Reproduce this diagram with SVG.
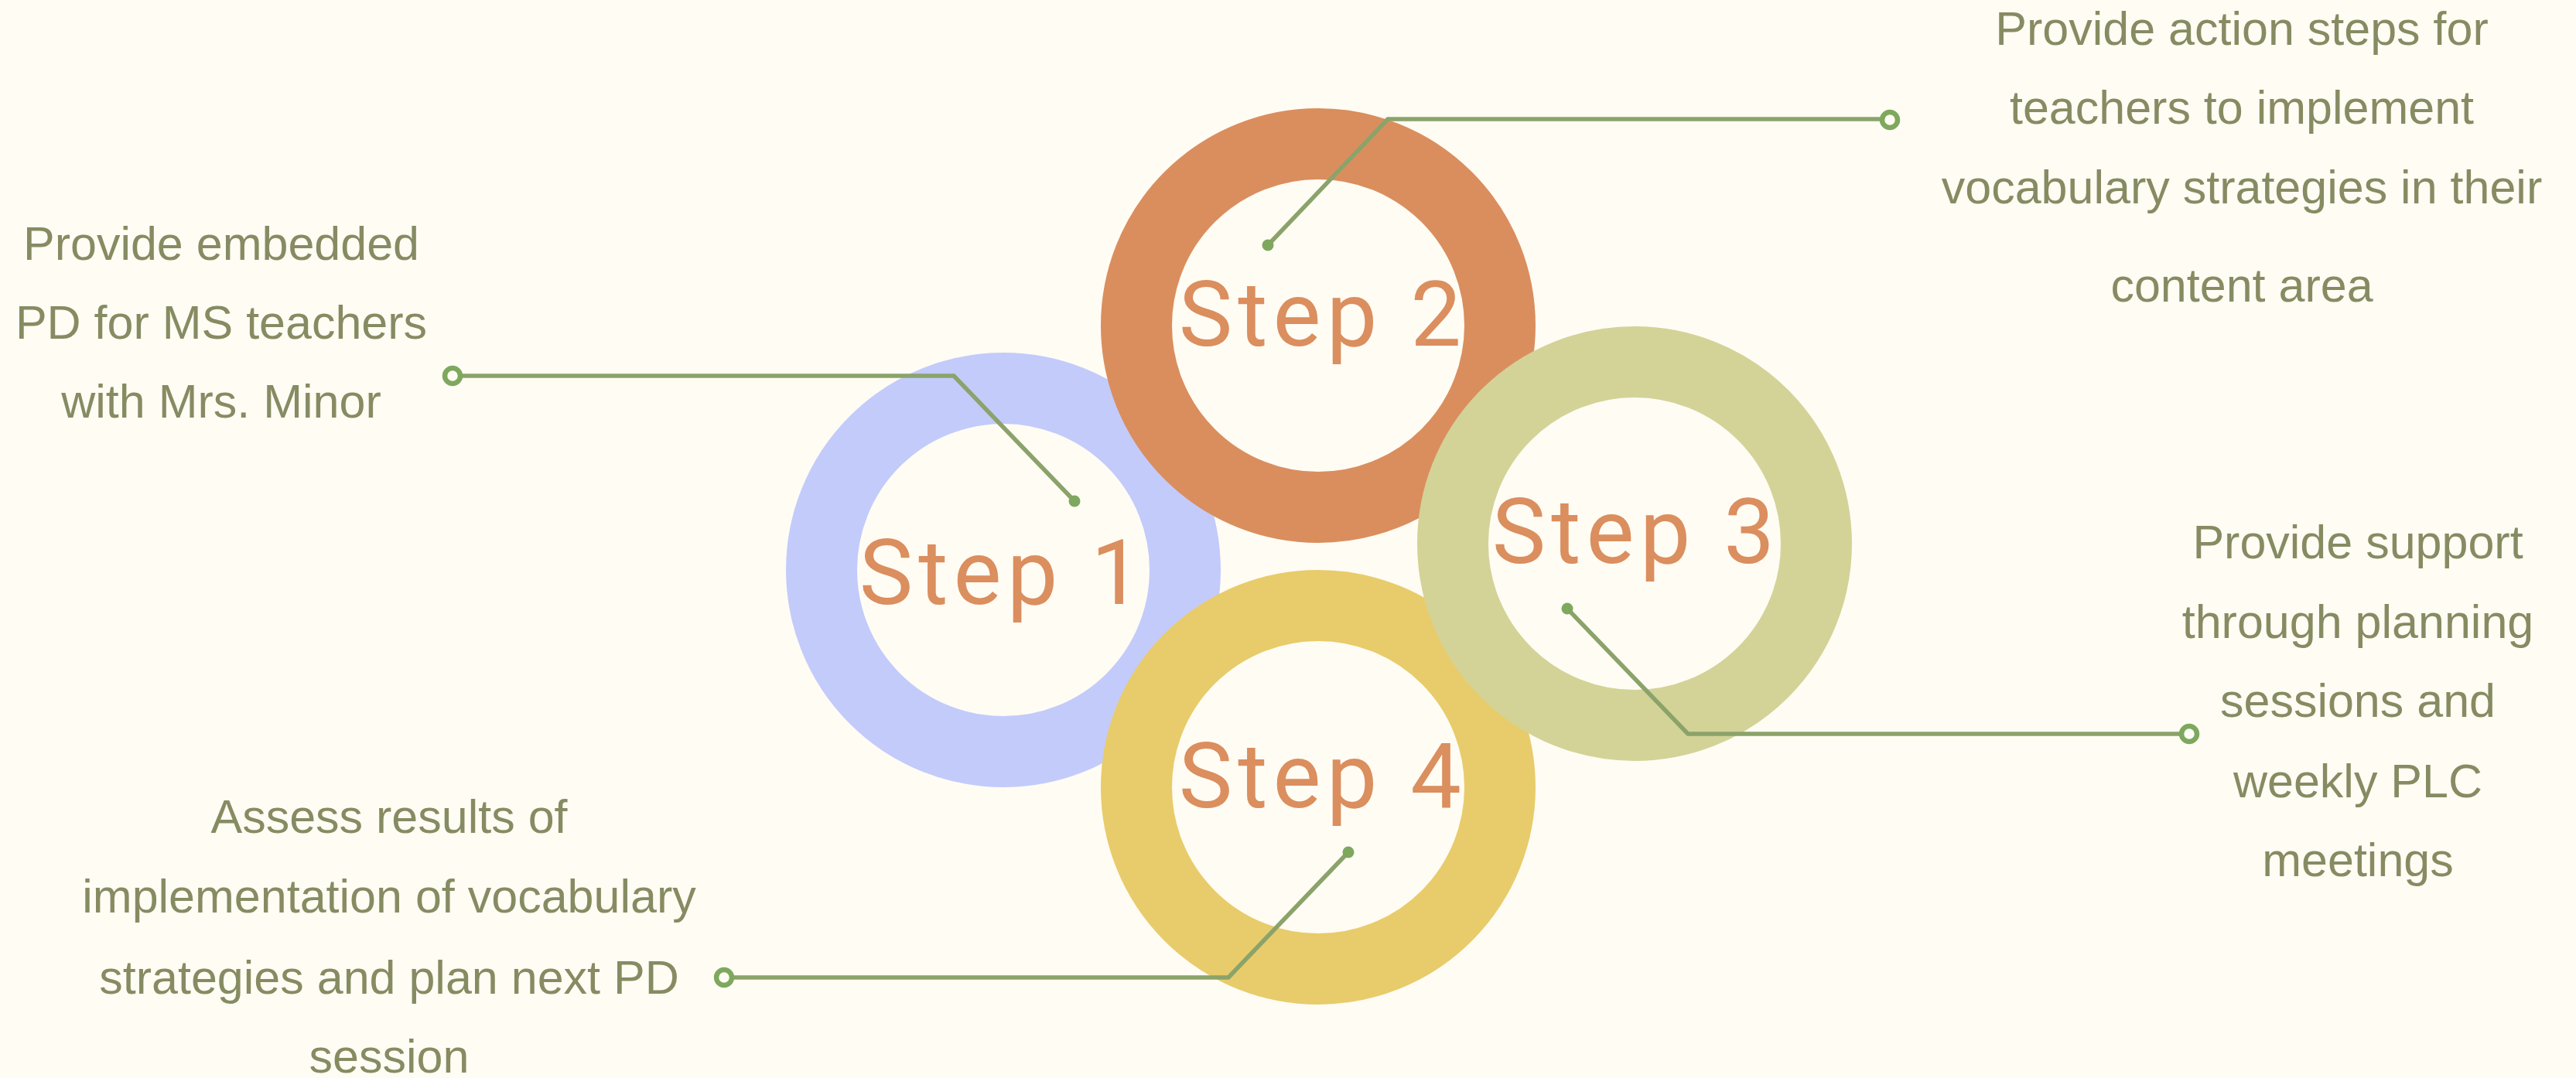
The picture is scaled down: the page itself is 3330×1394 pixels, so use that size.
<svg xmlns="http://www.w3.org/2000/svg" width="3330" height="1394" viewBox="0 0 3330 1394">
<defs>
<style>
.ring{fill:none;stroke-width:92}
.step{font-family:Roboto,"Liberation Sans",sans-serif;font-size:117px;fill:#DB8E5E;text-anchor:middle;letter-spacing:7px}
.lbl{font-family:"Liberation Sans",Arial,sans-serif;font-size:61px;fill:#878B62;text-anchor:middle}
.conn{fill:none;stroke:#8BA36A;stroke-width:5.5;stroke-linejoin:miter}
.dot{fill:#7EA85E}
.end{fill:#FFFCF4;stroke:#7EA85E;stroke-width:6.5}
</style>
</defs>
<rect width="3330" height="1394" fill="#FFFCF4"/>
<g id="node-step1">
<circle class="ring" cx="1297" cy="737" r="235" stroke="#C3CBFB"/>
<text class="step" x="1297" y="781">Step 1</text>
</g>
<g id="node-step2">
<circle class="ring" cx="1704" cy="421" r="235" stroke="#DA8E5E"/>
<text class="step" x="1710" y="447">Step 2</text>
</g>
<g id="node-step4">
<circle class="ring" cx="1704" cy="1018" r="235" stroke="#E8CC6B"/>
<text class="step" x="1710" y="1044">Step 4</text>
</g>
<g id="node-step3">
<circle class="ring" cx="2113" cy="703" r="235" stroke="#D3D398"/>
<text class="step" x="2115" y="728">Step 3</text>
</g>
<g id="label-1">
<text class="lbl" x="286" y="336">Provide embedded</text>
<text class="lbl" x="286" y="438">PD for MS teachers</text>
<text class="lbl" x="286" y="540">with Mrs. Minor</text>
</g>
<g id="label-2">
<text class="lbl" x="2898" y="58">Provide action steps for</text>
<text class="lbl" x="2898" y="160">teachers to implement</text>
<text class="lbl" x="2898" y="263">vocabulary strategies in their</text>
<text class="lbl" x="2898" y="390">content area</text>
</g>
<g id="label-3">
<text class="lbl" x="3048" y="722">Provide support</text>
<text class="lbl" x="3048" y="825">through planning</text>
<text class="lbl" x="3048" y="927">sessions and</text>
<text class="lbl" x="3048" y="1031">weekly PLC</text>
<text class="lbl" x="3048" y="1133">meetings</text>
</g>
<g id="label-4">
<text class="lbl" x="503" y="1077">Assess results of</text>
<text class="lbl" x="503" y="1180">implementation of vocabulary</text>
<text class="lbl" x="503" y="1285">strategies and plan next PD</text>
<text class="lbl" x="503" y="1387">session</text>
</g>
<g id="connectors">
<polyline class="conn" points="585,486 1233,486 1389,648"/>
<circle class="dot" cx="1389" cy="648" r="7.5"/>
<circle class="end" cx="585" cy="486" r="10"/>
<polyline class="conn" points="1639,317 1794,154 2443,154"/>
<circle class="dot" cx="1639" cy="317" r="7.5"/>
<circle class="end" cx="2443" cy="155" r="10"/>
<polyline class="conn" points="2026,787 2182,949 2830,949"/>
<circle class="dot" cx="2026" cy="787" r="7.5"/>
<circle class="end" cx="2830" cy="949" r="10"/>
<polyline class="conn" points="1743,1102 1588,1264 936,1264"/>
<circle class="dot" cx="1743" cy="1102" r="7.5"/>
<circle class="end" cx="936" cy="1264" r="10"/>
</g>
</svg>
